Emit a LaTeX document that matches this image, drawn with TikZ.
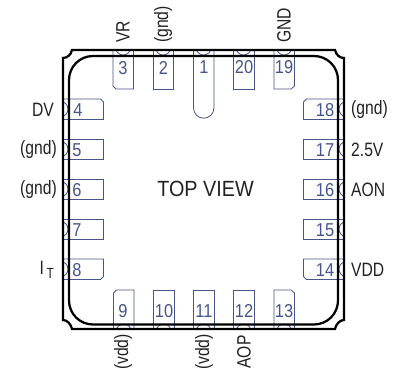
\documentclass[tikz,border=0pt]{standalone}
\usepackage{fontspec}
\setmainfont{Liberation Sans}
\definecolor{pinblue}{HTML}{46558A}
\definecolor{labeltext}{HTML}{222222}
\tikzset{
  pinline/.style={draw=pinblue,line width=0.6pt},
  bodyline/.style={draw=black,line width=1.7pt},
  pinnum/.style={text=pinblue,font=\fontsize{14}{15}\selectfont,inner sep=0pt,xscale=0.88},
  pinname/.style={text=labeltext,font=\fontsize{14.5}{15}\selectfont,inner sep=0pt,xscale=0.81},
  vertname/.style={text=labeltext,font=\fontsize{14.5}{15}\selectfont,inner sep=0pt,yscale=0.81,rotate=90}
}
\newcommand{\topnotch}[1]{\draw[pinline] (#1+3,50) arc[start angle=160,end angle=20,radius=7.6];}
\newcommand{\botnotch}[1]{\draw[pinline] (#1+3,329) arc[start angle=200,end angle=340,radius=7.6];}
\newcommand{\leftnotch}[1]{\draw[pinline] (63,#1+3) arc[start angle=-70,end angle=70,radius=7.6];}
\newcommand{\rightnotch}[1]{\draw[pinline] (344,#1+3) arc[start angle=250,end angle=110,radius=7.6];}
\newcommand{\toppin}[1]{%
  \draw[pinline] (#1,50) -- (#1,89) -- (#1+20.5,89) -- (#1+20.5,50);
  \topnotch{#1}}
\newcommand{\botpin}[1]{%
  \draw[pinline] (#1,329) -- (#1,290) -- (#1+20.5,290) -- (#1+20.5,329);
  \botnotch{#1}}
\newcommand{\leftpin}[1]{%
  \draw[pinline] (63,#1) -- (103.5,#1) -- (103.5,#1+20.5) -- (63,#1+20.5);
  \leftnotch{#1}}
\newcommand{\rightpin}[1]{%
  \draw[pinline] (344,#1) -- (303.5,#1) -- (303.5,#1+20.5) -- (344,#1+20.5);
  \rightnotch{#1}}
\begin{document}
\begin{tikzpicture}[x=0.75pt,y=-0.75pt]
\useasboundingbox (0,0) rectangle (396,370);
\fill[white] (0,0) rectangle (396,370);
% pins
\draw[pinline] (113,50) -- (113,86) -- (116,89) -- (133.5,89) -- (133.5,50);
\topnotch{113}
\toppin{153}
\draw[pinline] (193.5,50) -- (193.5,108) arc[start angle=180,end angle=0,radius=10.2] -- (213.9,50);
\topnotch{193.5}
\toppin{233.5}
\draw[pinline] (274,50) -- (274,89) -- (291,89) -- (294.5,86) -- (294.5,50);
\topnotch{274}
\draw[pinline] (63,99) -- (100.5,99) -- (103.5,102) -- (103.5,119.5) -- (63,119.5);
\leftnotch{99}
\leftpin{139}
\leftpin{179}
\leftpin{219}
\draw[pinline] (63,259) -- (103.5,259) -- (103.5,276.5) -- (100.5,279.5) -- (63,279.5);
\leftnotch{259}
\draw[pinline] (344,99) -- (306.5,99) -- (303.5,102) -- (303.5,119.5) -- (344,119.5);
\rightnotch{99}
\rightpin{139}
\rightpin{179}
\rightpin{219}
\draw[pinline] (344,259) -- (303.5,259) -- (303.5,276.5) -- (306.5,279.5) -- (344,279.5);
\rightnotch{259}
\draw[pinline] (113.5,329) -- (113.5,293) -- (116.5,290) -- (134,290) -- (134,329);
\botnotch{113.5}
\botpin{153.5}
\botpin{193.5}
\botpin{233.5}
\draw[pinline] (274,329) -- (274,290) -- (291,290) -- (294.5,293) -- (294.5,329);
\botnotch{274}
% package outer outline with notched corners
\draw[bodyline] (72,50) -- (335,50)
  .. controls (336,55) and (340,58) .. (344,58) -- (344,320)
  .. controls (340,320) and (336,324) .. (335,329) -- (72,329)
  .. controls (71,324) and (67,320) .. (63,320) -- (63,58)
  .. controls (67,58) and (71,55) .. (72,50) -- cycle;
% inner outline
\draw[bodyline] (93,56) -- (314,56) arc[start angle=270,end angle=360,radius=24] -- (338,300.5)
  arc[start angle=0,end angle=90,radius=24] -- (93,324.5)
  arc[start angle=90,end angle=180,radius=24] -- (69,80)
  arc[start angle=180,end angle=270,radius=24] -- cycle;
% pin numbers
\node[pinnum] (n1) at (204,67) {1};
\node[pinnum] (n2) at (163.5,68) {2};
\node[pinnum] (n3) at (123,68) {3};
\node[pinnum] (n4) at (78,110) {4};
\node[pinnum] (n5) at (77,150) {5};
\node[pinnum] (n6) at (77,190) {6};
\node[pinnum] (n7) at (77,230) {7};
\node[pinnum] (n8) at (77,270) {8};
\node[pinnum] (n9) at (123,311) {9};
\node[pinnum] (n10) at (164,311) {10};
\node[pinnum] (n11) at (204,311) {11};
\node[pinnum] (n12) at (244,311) {12};
\node[pinnum] (n13) at (284,311) {13};
\node[pinnum] (n14) at (325,270) {14};
\node[pinnum] (n15) at (325,230) {15};
\node[pinnum] (n16) at (325,190) {16};
\node[pinnum] (n17) at (325,150) {17};
\node[pinnum] (n18) at (325,110) {18};
\node[pinnum] (n19) at (284,67) {19};
\node[pinnum] (n20) at (244,67) {20};
% external labels
\node[vertname] (vr) at (123,32) {VR};
\node[vertname] (g2) at (163,24.5) {(gnd)};
\node[vertname] (gnd) at (284,25.5) {GND};
\node[pinname,anchor=east] (dv) at (54,110) {DV};
\node[pinname,anchor=east] (g5) at (57,150) {(gnd)};
\node[pinname,anchor=east] (g6) at (57,190) {(gnd)};
\node[pinname,anchor=east] (it) at (54,270) {I\raisebox{-0.4ex}{\,\fontsize{11}{12}\selectfont T}};
\node[pinname,anchor=west] (g18) at (351,110) {(gnd)};
\node[pinname,anchor=west] (v25) at (351,150) {2.5V};
\node[pinname,anchor=west] (aon) at (351,190) {AON};
\node[pinname,anchor=west] (vdd) at (351,270) {VDD};
\node[vertname] (v9) at (123,352) {(vdd)};
\node[vertname] (v11) at (204,352) {(vdd)};
\node[vertname] (aop) at (244,352) {AOP};
\node[text=labeltext,font=\fontsize{16.5}{17}\selectfont,inner sep=0pt,xscale=0.9] (top) at (205.5,189) {TOP VIEW};
\end{tikzpicture}
\end{document}
